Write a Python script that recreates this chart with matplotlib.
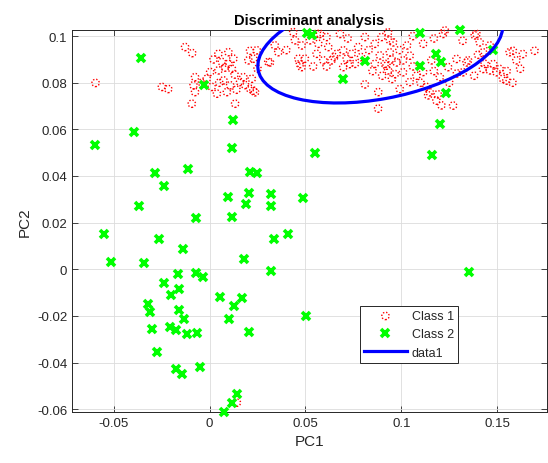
import matplotlib
matplotlib.use("Agg")
import matplotlib.pyplot as plt
from matplotlib.patches import Ellipse
from matplotlib.lines import Line2D

plt.rcParams['font.family'] = ['Liberation Sans', 'DejaVu Sans']

# Class 1 (red) - PC1 / PC2
class1_x = [-0.0595, -0.0128, -0.0091, -0.0249, -0.0216, -0.0093, 0.0133, 0.0046, 0.0098, 0.0124,
            0.0064, 0.0098, 0.0116, 0.0046, 0.0003, -0.0015, -0.0076, -0.0084, -0.0076, 0.0011,
            0.0072, 0.0107, 0.0090, 0.0038, 0.0159, 0.0176, 0.0220, 0.0211, 0.0228, 0.0246,
            0.0202, 0.0237, 0.0306, 0.0358, 0.0436, 0.0445, 0.0523, 0.0567, 0.0610, 0.0619,
            0.0463, 0.0497, 0.0480, 0.0558, 0.0593, 0.0636, 0.0663, 0.0697, 0.0715, 0.0697,
            0.0741, 0.0775, 0.0758, 0.0810, 0.0862, 0.0888, 0.0862, 0.0914, 0.0931, 0.0897,
            0.0940, 0.0810, 0.0879, 0.0315, 0.0211, 0.0471, 0.0931, 0.0957, 0.0940, 0.0975,
            0.0923, 0.0966, 0.1009, 0.1044, 0.1079, 0.1148, 0.1183, 0.1270, 0.1218, 0.1392,
            0.1409, 0.1288, 0.1340, 0.1426, 0.1322, 0.1426, 0.1513, 0.1548, 0.1496, 0.1582,
            0.1634, 0.1695, 0.1009, 0.1114, 0.1114, 0.1201, 0.1244, 0.1157, 0.1383, 0.1348,
            0.1435, 0.1461, 0.1530, 0.1565, 0.1600, 0.1140, 0.1209, 0.1131, 0.1227, 0.1461,
            0.0142, 0.0576, 0.0228, 0.0951, 0.0992, 0.1044, 0.0680,
            0.0020, 0.0080, 0.0130, 0.0050, 0.0185, 0.0140, -0.0040, 0.0250, 0.0340, 0.0400,
            0.0480, 0.0540, 0.0610, 0.0650, 0.0730, 0.0790, 0.0830, 0.0850, 0.0900, 0.0950,
            0.0990, 0.1030, 0.1060, 0.1100, 0.1170, 0.1250, 0.1290, 0.1380, 0.1400, 0.1480,
            0.1550, 0.1580, 0.1620, 0.1320, 0.1170, 0.0720, 0.0560, 0.1060, 0.0880, 0.1190]
class1_y = [0.0799, 0.0953, 0.0927, 0.0782, 0.0773, 0.0710, 0.0710, 0.0924, 0.0931, 0.0903,
            0.0889, 0.0881, 0.0860, 0.0853, 0.0846, 0.0817, 0.0824, 0.0789, 0.0760, 0.0782,
            0.0810, 0.0789, 0.0760, 0.0753, 0.0803, 0.0824, 0.0817, 0.0774, 0.0903, 0.0939,
            0.0896, 0.0759, 0.0889, 0.0931, 0.1017, 0.0982, 0.0982, 0.0967, 0.0996, 0.0953,
            0.0903, 0.0903, 0.0867, 0.0924, 0.0896, 0.0896, 0.0924, 0.0939, 0.0903, 0.0867,
            0.0924, 0.0953, 0.0881, 0.0996, 0.0967, 0.0917, 0.0881, 0.0881, 0.0853, 0.0996,
            0.0982, 0.0793, 0.0689, 0.0887, 0.0937, 0.0880, 0.1016, 0.0973, 0.0930, 0.0887,
            0.0873, 0.0837, 0.0845, 0.0916, 0.0830, 0.0759, 0.0723, 0.0702, 0.1009, 0.1009,
            0.0973, 0.0902, 0.0887, 0.0930, 0.0845, 0.0859, 0.0859, 0.0809, 0.0845, 0.0937,
            0.0923, 0.0937, 0.0896, 0.0967, 0.0846, 0.0824, 0.0867, 0.0896, 0.1003, 0.0896,
            0.0881, 0.0853, 0.0817, 0.0931, 0.0896, 0.0746, 0.0703, 0.0782, 0.1024, 0.0960,
            -0.0572, 0.1009, 0.0766, 0.0816, 0.0773, 0.0803, 0.1009,
            0.0900, 0.0865, 0.0835, 0.0800, 0.0790, 0.0770, 0.0800, 0.0860, 0.0960, 0.0940,
            0.0960, 0.0870, 0.0870, 0.0910, 0.0880, 0.0910, 0.0940, 0.0850, 0.0830, 0.0900,
            0.0940, 0.0960, 0.0870, 0.0800, 0.0850, 0.0800, 0.0840, 0.0830, 0.0920, 0.0880,
            0.0850, 0.0800, 0.0860, 0.0980, 0.0990, 0.0990, 0.1010, 0.1000, 0.0760, 0.0750]

# Class 2 (green)
class2_x = [-0.0357, -0.0032, 0.0122, -0.0393, -0.0596, 0.0119, 0.0549, -0.0284, -0.0114, 0.0211,
            0.0246, -0.0237, 0.0096, 0.0204, 0.0319, 0.0489, 0.0189, 0.0319, -0.0371, -0.0072,
            0.0119, -0.0551, -0.0263, -0.0140, 0.0407, 0.0338, -0.0517, -0.0341, 0.0180, 0.0319,
            -0.0166, -0.0072, -0.0035, -0.0239, -0.0159, -0.0204, 0.0055, 0.0169, -0.0320, 0.0129,
            -0.0310, -0.0159, -0.0134, 0.0102, 0.0503, -0.0301, -0.0209, -0.0176, -0.0119, -0.0067,
            0.0206, -0.0273, -0.0176, -0.0145, -0.0048, 0.0142, 0.0117, 0.0077, 0.1160, 0.1352,
            0.0506, 0.0532, 0.1096, 0.1305, 0.0810, 0.0694, 0.1183, 0.1209, 0.1100, 0.1478,
            0.1235, 0.1204]
class2_y = [0.0906, 0.0791, 0.0639, 0.0588, 0.0533, 0.0522, 0.0499, 0.0413, 0.0432, 0.0416,
            0.0413, 0.0359, 0.0310, 0.0326, 0.0322, 0.0306, 0.0278, 0.0273, 0.0272, 0.0221,
            0.0226, 0.0152, 0.0131, 0.0087, 0.0153, 0.0131, 0.0033, 0.0028, 0.0042, -0.0009,
            -0.0019, -0.0015, -0.0033, -0.0058, -0.0086, -0.0109, -0.0121, -0.0125, -0.0148, -0.0159,
            -0.0183, -0.0173, -0.0212, -0.0212, -0.0202, -0.0255, -0.0246, -0.0259, -0.0279, -0.0272,
            -0.0269, -0.0355, -0.0426, -0.0450, -0.0418, -0.0533, -0.0572, -0.0610, 0.0490, -0.0012,
            0.1013, 0.1004, 0.1013, 0.1027, 0.0894, 0.0816, 0.0923, 0.0887, 0.0873, 0.0941,
            0.0755, 0.0623]

# decision ellipse (data1)
ell_center = (0.0890, 0.0956)
ell_width = 0.1290
ell_height = 0.0451
ell_angle = 8.6

xticks = [-0.05, 0, 0.05, 0.1, 0.15]
xtick_labels = ['-0.05', '0', '0.05', '0.1', '0.15']
yticks = [-0.06, -0.04, -0.02, 0, 0.02, 0.04, 0.06, 0.08, 0.1]
ytick_labels = ['-0.06', '-0.04', '-0.02', '0', '0.02', '0.04', '0.06', '0.08', '0.1']


def main():
    fig = plt.figure(figsize=(5.48, 4.64), dpi=100)
    ax = fig.add_axes([0.1314, 0.1099, 0.8668, 0.8233])

    ax.grid(True, color='#dcdcdc', linewidth=0.6)
    ax.set_axisbelow(True)

    # 红色点：虚线小圆圈
    ax.scatter(class1_x, class1_y, s=28, marker='o', facecolors='none',
               edgecolors='#ff0000', linewidths=1.0, linestyles=(0, (1, 1.3)),
               clip_on=False, zorder=3, label='Class 1')
    ax.plot(class2_x, class2_y, linestyle='none', marker='x', color='#00ff00',
            markersize=6, markeredgewidth=2.6, clip_on=False, zorder=4, label='Class 2')

    ell = Ellipse(ell_center, ell_width, ell_height, angle=ell_angle, fill=False,
                  edgecolor='#0000ff', linewidth=2.3, zorder=5)
    ax.add_patch(ell)

    ax.set_xlim(-0.0718, 0.176)
    ax.set_ylim(-0.0612, 0.1026)
    ax.set_xticks(xticks)
    ax.set_xticklabels(xtick_labels)
    ax.set_yticks(yticks)
    ax.set_yticklabels(ytick_labels)
    ax.tick_params(direction='in', top=True, right=True, length=4, width=0.6,
                   colors='#262626', labelsize=9.5)
    for s in ax.spines.values():
        s.set_color('#262626')
        s.set_linewidth(0.7)

    ax.set_xlabel('PC1', fontsize=11, color='#262626')
    ax.set_ylabel('PC2', fontsize=11, color='#262626')
    ax.set_title('Discriminant analysis', fontsize=10.5, fontweight='bold', pad=4)

    handles, labels = ax.get_legend_handles_labels()
    handles.append(Line2D([], [], color='#0000ff', linewidth=2.3))
    labels.append('data1')
    leg = ax.legend(handles, labels, loc='lower left', bbox_to_anchor=(0.606, 0.128),
                    fontsize=9, fancybox=False, edgecolor='#262626', framealpha=1,
                    borderpad=0.35, labelspacing=0.5, handlelength=3.4, handletextpad=0.4,
                    borderaxespad=0, scatterpoints=1)
    leg.get_frame().set_linewidth(0.7)
    for t in leg.get_texts():
        t.set_color('#262626')

    fig.savefig('out.png', dpi=100)


if __name__ == "__main__":
    main()
